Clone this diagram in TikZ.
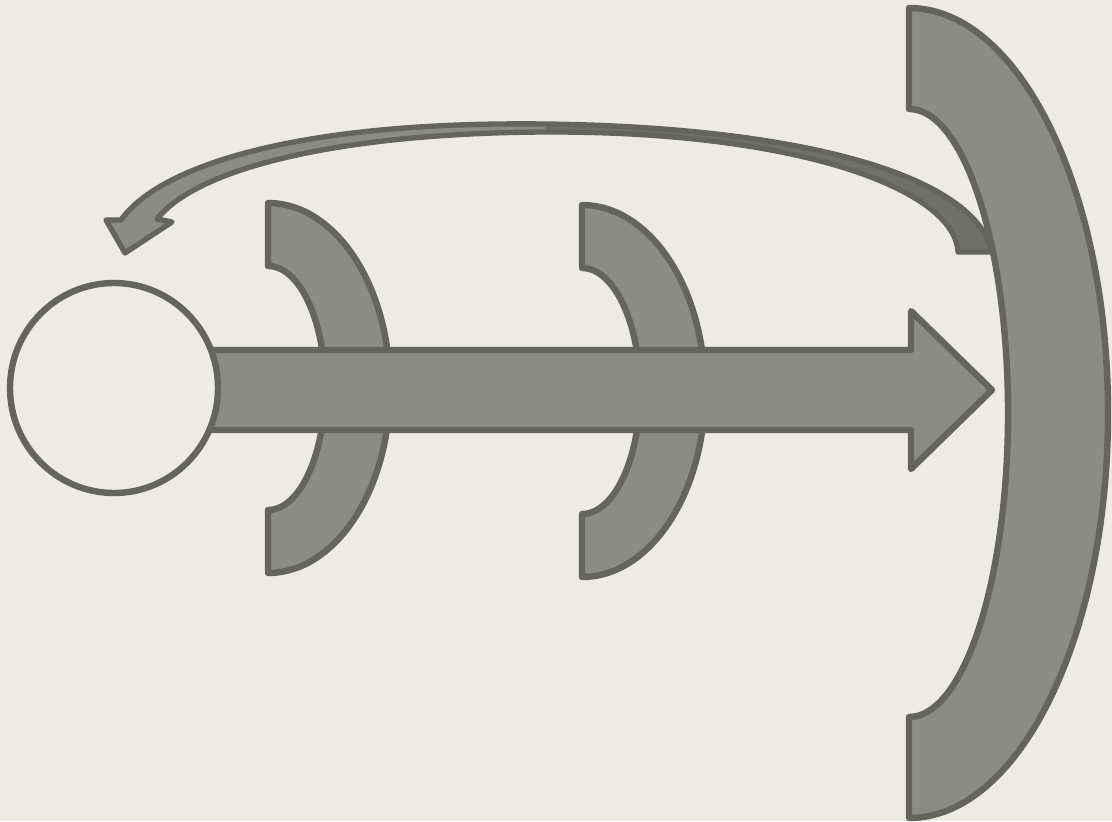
\documentclass[tikz,border=0pt]{standalone}
\usetikzlibrary{calc}
\definecolor{bg}{RGB}{238,235,228}
\definecolor{shapefill}{RGB}{139,140,133}
\definecolor{shapeline}{RGB}{100,101,95}
\definecolor{backfill}{RGB}{112,113,106}
\newcommand{\moonpath}[6]{(#1,{#2-#4}) .. controls ({#1+0.5523*#3},{#2-#4}) and ({#1+#3},{#2-0.5523*#4}) .. ({#1+#3},#2) .. controls ({#1+#3},{#2+0.5523*#4}) and ({#1+0.5523*#3},{#2+#4}) .. (#1,{#2+#4}) -- (#1,{#2+#6}) .. controls ({#1+0.5523*#5},{#2+#6}) and ({#1+#5},{#2+0.5523*#6}) .. ({#1+#5},#2) .. controls ({#1+#5},{#2-0.5523*#6}) and ({#1+0.5523*#5},{#2-#6}) .. (#1,{#2-#6}) -- cycle}
\tikzset{
  grayshape/.style={fill=shapefill, draw=shapeline, line width=4.8pt, line join=round},
  bandline/.style={draw=shapeline, line width=4pt, line join=round}
}
\begin{document}
\begin{tikzpicture}[x=0.75pt,y=0.75pt,yscale=-1]
\fill[bg] (0,0) rectangle (1112,821);
\useasboundingbox (0,0) rectangle (1112,821);
% curved return arrow
\fill[shapefill] (157,219) -- (172,222) -- (125,253) -- (106,220) -- (121,220)
  .. controls (160,165) and (300,121) .. (545,124)
  .. controls (800,127) and (975,175) .. (992,252) -- (958,252)
  .. controls (955,190) and (800,131) .. (545,132)
  .. controls (350,133) and (200,165) .. (157,219) -- cycle;
\fill[backfill] (545,124)
  .. controls (800,127) and (975,175) .. (992,252) -- (958,252)
  .. controls (955,190) and (800,131) .. (545,132) -- cycle;
\draw[bandline] (157,219) -- (172,222) -- (125,253) -- (106,220) -- (121,220)
  .. controls (160,165) and (300,121) .. (545,124)
  .. controls (800,127) and (975,175) .. (992,252) -- (958,252)
  .. controls (955,190) and (800,131) .. (545,132)
  .. controls (350,133) and (200,165) .. (157,219) -- cycle;
% small moons
\draw[grayshape] \moonpath{268}{388}{122}{185}{57}{122};
\draw[grayshape] \moonpath{582}{391}{123}{186}{58}{123};
% main arrow
\draw[grayshape] (190,350) -- (911,350) -- (911,311) -- (992,390) -- (911,469) -- (911,430) -- (190,430) -- cycle;
% circle
\draw[fill=bg, draw=shapeline, line width=4.8pt] (114,388) ellipse [x radius=104, y radius=105];
% big moon
\draw[grayshape] \moonpath{909}{413}{199}{405}{99}{304};
\end{tikzpicture}
\end{document}
